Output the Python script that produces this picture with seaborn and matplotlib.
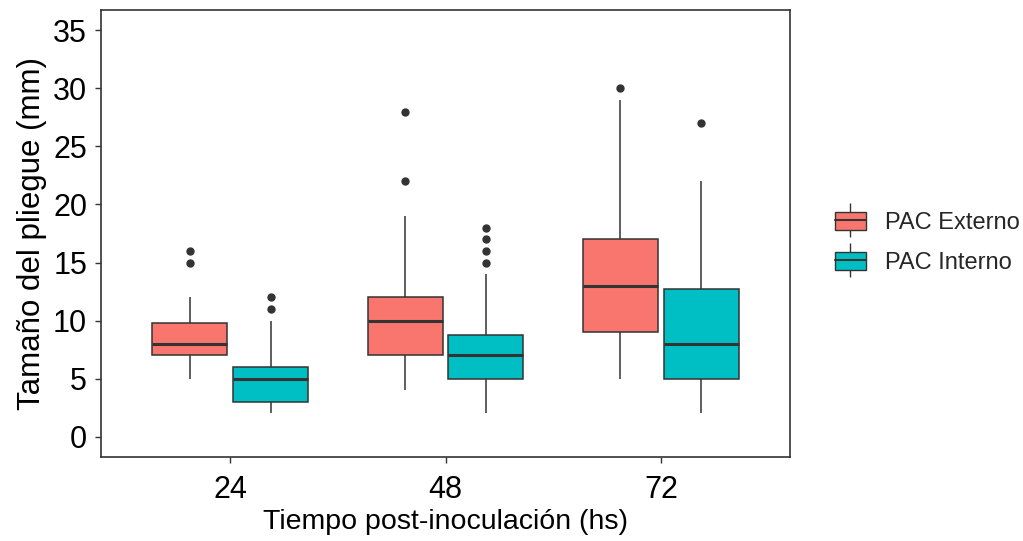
import pandas as pd
import matplotlib.pyplot as plt
import seaborn as sns
from matplotlib.patches import Patch
from matplotlib.lines import Line2D

# tiempos (hs) y tratamientos
tiempos = ['24', '48', '72']
tratamientos = ['PAC Externo', 'PAC Interno']

# tamaño del pliegue (mm)
ext_24 = [5, 6, 6, 7, 7, 7, 7, 7, 8, 8, 8, 8, 9, 9, 9, 9.75, 10, 11, 12, 15, 16]
int_24 = [2, 2, 2, 3, 3, 3, 4, 4, 4, 5, 5, 5, 5, 5, 6, 6, 7, 8, 10, 11, 12]
ext_48 = [4, 5, 6, 6, 7, 7, 8, 9, 9, 10, 10, 10, 11, 11, 12, 12, 13, 15, 19, 22, 28]
int_48 = [2, 3, 4, 4, 5, 5, 6, 6, 7, 7, 7, 7, 8, 8, 8, 8.75, 14, 15, 16, 17, 18]
ext_72 = [5, 6, 7, 8, 9, 9, 10, 11, 12, 13, 13, 14, 15, 16, 17, 17, 19, 21, 24, 29, 30]
int_72 = [2, 3, 4, 4, 5, 5, 6, 6, 7, 8, 8, 8, 9, 10, 11, 12.75, 14, 16, 19, 22, 27]

grupos = {
    ('24', 'PAC Externo'): ext_24, ('24', 'PAC Interno'): int_24,
    ('48', 'PAC Externo'): ext_48, ('48', 'PAC Interno'): int_48,
    ('72', 'PAC Externo'): ext_72, ('72', 'PAC Interno'): int_72,
}
rows = []
for (t, trat), vals in grupos.items():
    for v in vals:
        rows.append({'tiempo': t, 'tratamiento': trat, 'pliegue': v})
df = pd.DataFrame(rows)

colores = {'PAC Externo': '#F8766D', 'PAC Interno': '#00BFC4'}
linea = '#333333'

sns.set_style('white')
plt.rcParams['font.family'] = ['Liberation Sans', 'DejaVu Sans']

fig = plt.figure(figsize=(10.23, 5.41), dpi=100)
ax = fig.add_axes([101 / 1023, 84 / 541, 689 / 1023, 447 / 541])

sns.boxplot(data=df, x='tiempo', y='pliegue', hue='tratamiento',
            order=tiempos, hue_order=tratamientos, palette=colores,
            width=0.75, gap=0.07, saturation=1, whis=1.5, ax=ax,
            linecolor=linea, linewidth=1.1,
            medianprops=dict(color=linea, linewidth=2.2),
            capprops=dict(linewidth=0),
            flierprops=dict(marker='o', markerfacecolor=linea, markeredgecolor=linea,
                            markersize=5),
            legend=False)

ax.set_xlim(-0.6, 2.6)
ax.set_ylim(-1.75, 36.75)
ax.set_yticks(range(0, 36, 5))
ax.set_xlabel('Tiempo post-inoculación (hs)', fontsize=20.5, labelpad=3, color='black')
ax.set_ylabel('Tamaño del pliegue (mm)', fontsize=22.5, labelpad=4, color='black')
ax.tick_params(axis='both', labelsize=22, length=4, width=1, color=linea,
               labelcolor='black', direction='out', bottom=True, left=True)
ax.tick_params(axis='x', pad=9)
ax.tick_params(axis='y', pad=6)
for s in ax.spines.values():
    s.set_color(linea)
    s.set_linewidth(1.2)

handles = []
for trat in tratamientos:
    bigote = Line2D([], [], marker='|', markersize=24, color=linea, linestyle='none',
                    markeredgewidth=1)
    caja = Patch(facecolor=colores[trat], edgecolor=linea, linewidth=1)
    mediana = Line2D([], [], color=linea, linewidth=1.5)
    handles.append((bigote, caja, mediana))
fig.legend(handles, tratamientos, loc='center left', bbox_to_anchor=(835 / 1023, 0.551),
           frameon=False, fontsize=17, handlelength=1.3, handleheight=0.8,
           labelspacing=0.75, handletextpad=0.8, borderpad=0, borderaxespad=0)

fig.savefig('out.png', dpi=100)
